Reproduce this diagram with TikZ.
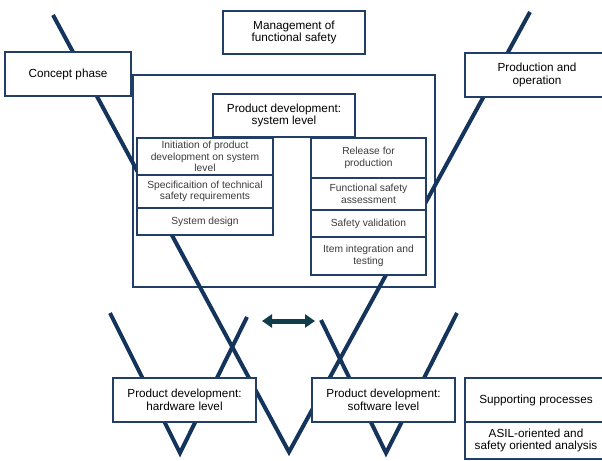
\documentclass[tikz,border=0pt]{standalone}
\usepackage{fontspec}
\setmainfont{Liberation Sans}
\usetikzlibrary{positioning, arrows.meta}
\definecolor{vblue}{RGB}{20,52,92}
\definecolor{boxblue}{RGB}{35,62,102}
\definecolor{arrowteal}{RGB}{16,60,76}
\definecolor{tasktext}{RGB}{60,60,60}
\tikzset{
  phase/.style={draw=boxblue, line width=0.9pt, fill=white, align=center, inner sep=1pt, outer sep=0pt, font=\fontsize{8.8}{9.6}\selectfont},
  task/.style={draw=boxblue, line width=0.9pt, fill=white, align=center, inner sep=1pt, outer sep=0pt, text=tasktext, font=\fontsize{7.7}{8.6}\selectfont},
  vline/.style={draw=vblue, line width=3pt, line join=miter},
}

\begin{document}
\begin{tikzpicture}[x=0.75pt,y=0.75pt,yscale=-1,xscale=1]
\clip (0,0) rectangle (602,460);

%Rectangle: frame round the system level
\draw [boxblue, line width=0.9pt] (133,75) rectangle (435,287);

%Straight Lines: the three V's
\coordinate (big-l) at (53,15);
\coordinate (big-b) at (289,452);
\coordinate (big-r) at (530,12);
\coordinate (hw-l) at (110,313);
\coordinate (hw-b) at (180,453);
\coordinate (hw-r) at (247,317);
\coordinate (sw-l) at (321,320);
\coordinate (sw-b) at (386,453);
\coordinate (sw-r) at (457,313);
\draw [vline] (big-l) -- (big-b) -- (big-r);
\draw [vline] (hw-l) -- (hw-b) -- (hw-r);
\draw [vline] (sw-l) -- (sw-b) -- (sw-r);

% Text Node
\node [phase, minimum width=106.5pt, minimum height=32.25pt] (mgmt) at (294,32.5) {Management of\\functional safety};
% Text Node
\node [phase, minimum width=94.5pt, minimum height=33pt] (concept) at (68,74) {Concept phase};
% Text Node
\node [phase, minimum width=108pt, minimum height=33pt] (prodop) at (537,75) {Production and\\operation};

% Text Node
\node [task, minimum width=102pt, minimum height=27.75pt, anchor=north] (init) at (205,138) {Initiation of product\\development on system\\level};
\node [task, minimum width=102pt, minimum height=24.75pt, below=0pt of init] (spec) {Specificaition of technical\\safety requirements};
\node [task, minimum width=102pt, minimum height=20.25pt, below=0pt of spec] (sysdes) {System design};

% Text Node
\node [task, minimum width=86.25pt, minimum height=30pt, anchor=north] (release) at (368.5,138) {Release for\\production};
\node [task, minimum width=86.25pt, minimum height=24pt, below=0pt of release] (fsa) {Functional safety\\assessment};
\node [task, minimum width=86.25pt, minimum height=20.25pt, below=0pt of fsa] (sval) {Safety validation};
\node [task, minimum width=86.25pt, minimum height=28.5pt, below=0pt of sval] (iit) {Item integration and\\testing};

% Text Node
\node [phase, minimum width=106.5pt, minimum height=32.25pt] (sys) at (284,115.5) {Product development:\\system level};

% Text Node
\node [phase, minimum width=107.25pt, minimum height=33pt] (hw) at (184.5,400) {Product development:\\hardware level};
% Text Node
\node [phase, minimum width=107.25pt, minimum height=33pt] (sw) at (383.5,400) {Product development:\\software level};
% Text Node
\node [phase, minimum width=106.5pt, minimum height=33pt] (supp) at (536,400) {Supporting processes};
\node [phase, minimum width=106.5pt, minimum height=27.75pt, below=0pt of supp] (asil) {ASIL-oriented and\\safety oriented analysis};

%Double arrow between hardware and software
\coordinate (hs-l) at (262,321);
\coordinate (hs-r) at (315,321);
\draw [arrowteal, line width=3.75pt, {Triangle[width=9.75pt,length=7.5pt]}-{Triangle[width=9.75pt,length=7.5pt]}] (hs-l) -- (hs-r);

\end{tikzpicture}
\end{document}
